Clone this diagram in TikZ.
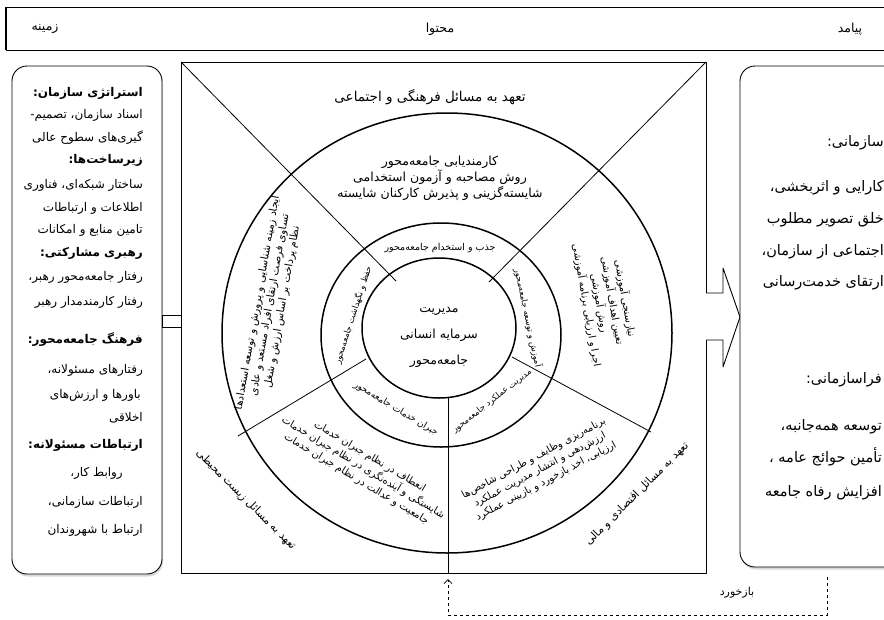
\documentclass[tikz,border=0pt]{standalone}
\usepackage{fontspec}
\newfontfamily\arabicfont[Script=Arabic]{DejaVu Sans}
\TeXXeTstate=1
\usetikzlibrary{arrows.meta,shadows}
\newcommand{\fa}[1]{\beginR #1\endR}

\begin{document}
\begin{tikzpicture}[x=1pt,y=-1pt,line join=round,
    ring/.style={line width=1.5pt},
    spoke/.style={line width=0.8pt},
    fatxt/.style={font=\arabicfont\fontsize{#1}{#1}\selectfont, inner sep=0pt},
    fatxt/.default=8,
    lbl/.style={fatxt=12, anchor=east},
    lhead/.style={lbl, font=\arabicfont\bfseries\fontsize{12}{12}\selectfont},
    rlbl/.style={fatxt=14.5, anchor=east},
    seg/.style 2 args={font=\arabicfont\fontsize{#1}{#2}\selectfont, inner sep=0pt, align=center},
    panel/.style={draw, line width=0.9pt, fill=white, rounded corners=15pt,
        drop shadow={shadow xshift=1pt, shadow yshift=-2.5pt, opacity=0.3}}]
    \useasboundingbox (0,0) rectangle (884,619);

    % Header
    \draw[line width=0.9pt] (6,7) rectangle (900,50);
    \draw[line width=2pt] (6,7) -- (6,50);
    \node[fatxt=12.5] (hctx) at (45,29) {\fa{زمینه}};
    \node[fatxt=12.5] (hcnt) at (440,29) {\fa{محتوا}};
    \node[fatxt=12.5] (hout) at (850,29) {\fa{پیامد}};

    % Context panel
    \draw[panel] (12,66) rectangle (162,574);
    \node[lhead] (l1) at (143,93) {\fa{استراتژی سازمان:}};
    \node[lbl] (l2) at (143,115) {\fa{اسناد سازمان، تصمیم-}};
    \node[lbl] (l3) at (143,138) {\fa{گیری‌های سطوح عالی}};
    \node[lhead] (l4) at (143,160) {\fa{زیرساخت‌ها:}};
    \node[lbl] (l5) at (143,185) {\fa{ساختار شبکه‌ای، فناوری}};
    \node[lbl] (l6) at (143,208) {\fa{اطلاعات و ارتباطات}};
    \node[lbl] (l7) at (143,230) {\fa{تامین منابع و امکانات}};
    \node[lhead] (l8) at (143,253) {\fa{رهبری مشارکتی:}};
    \node[lbl] (l9) at (143,277) {\fa{رفتار جامعه‌محور رهبر،}};
    \node[lbl] (l10) at (143,302) {\fa{رفتار کارمندمدار رهبر}};
    \node[lhead] (l11) at (143,340) {\fa{فرهنگ جامعه‌محور:}};
    \node[lbl] (l12) at (143,370) {\fa{رفتارهای مسئولانه،}};
    \node[lbl] (l13) at (141,395) {\fa{باورها و ارزش‌های}};
    \node[lbl] (l14) at (143,418) {\fa{اخلاقی}};
    \node[lhead] (l15) at (143,445) {\fa{ارتباطات مسئولانه:}};
    \node[lbl] (l16) at (123,473) {\fa{روابط کار،}};
    \node[lbl] (l17) at (143,502) {\fa{ارتباطات سازمانی،}};
    \node[lbl] (l18) at (143,530) {\fa{ارتباط با شهروندان}};
    \draw[line width=0.8pt] (162,315) rectangle (181,327);

    % Content square
    \draw[line width=1pt] (181,62) rectangle (706,573);
    \coordinate (tl) at (181,62); \coordinate (tlin) at (396,281);
    \coordinate (tr) at (706,62); \coordinate (trin) at (489,282);
    \coordinate (llout) at (238,436); \coordinate (llin) at (366,359);
    \coordinate (bot) at (448,573); \coordinate (botin) at (448,398);
    \coordinate (lrout) at (651,432); \coordinate (lrin) at (512,357);
    \draw[spoke] (tl) -- (tlin);
    \draw[spoke] (tr) -- (trin);
    \draw[spoke] (llout) -- (llin);
    \draw[spoke] (bot) -- (botin);
    \draw[spoke] (lrout) -- (lrin);

    \draw[ring] (447,333) ellipse [x radius=225, y radius=220];
    \draw[ring] (441,335) ellipse [x radius=120, y radius=112];
    \draw[ring] (439,328) ellipse [x radius=77, y radius=70];

    % Outer commitments
    \node[fatxt=13.5] (cult) at (430,97) {\fa{تعهد به مسائل فرهنگی و اجتماعی}};
    \node[fatxt=11, rotate=-45] (env) at (246,500) {\fa{تعهد به مسائل زیست محیطی}};
    \node[fatxt=11, rotate=45] (econ) at (637,494) {\fa{تعهد به مسائل اقتصادی و مالی}};

    % Outer ring
    \node[seg={12.5}{16}] (rtop) at (440,178) {\fa{کارمندیابی جامعه‌محور}\\\fa{روش مصاحبه و آزمون استخدامی}\\\fa{شایسته‌گزینی و پذیرش کارکنان شایسته}};
    \node[seg={10.5}{12.5}, rotate=80] (rleft) at (270,305) {\fa{ایجاد زمینه شناسایی و پرورش و توسعه استعدادها}\\\fa{تساوی فرصت ارتقای افراد مستعد و عادی}\\\fa{نظام پرداخت بر اساس ارزش و شغل}};
    \node[seg={10}{13}, rotate=-31] (rbl) at (363,468) {\fa{انعطاف در نظام جبران خدمات}\\\fa{شایستگی و آینده‌نگری در نظام جبران خدمات}\\\fa{جامعیت و عدالت در نظام جبران خدمات}};
    \node[seg={10}{13}, rotate=28] (rbr) at (540,470) {\fa{برنامه‌ریزی وظایف و طراحی شاخص‌ها}\\\fa{ارزش‌دهی و انتشار مدیریت عملکرد}\\\fa{ارزیابی، اخذ بازخورد و بازبینی عملکرد}};
    \node[seg={10}{13}, rotate=-80] (rright) at (606,302) {\fa{نیازسنجی آموزشی}\\\fa{تعیین اهداف آموزشی}\\\fa{روش آموزشی}\\\fa{اجرا و ارزیابی برنامه آموزشی}};

    % Inner ring
    \node[fatxt=9.5] (itop) at (440,248) {\fa{جذب و استخدام جامعه‌محور}};
    \node[fatxt=8.5, rotate=72] (ileft) at (353,315) {\fa{حفظ و نگهداشت جامعه‌محور}};
    \node[fatxt=9, rotate=-31] (ibl) at (396,409) {\fa{جبران خدمات جامعه‌محور}};
    \node[fatxt=8.5, rotate=38] (ibr) at (492,401) {\fa{مدیریت عملکرد جامعه‌محور}};
    \node[fatxt=8.5, rotate=-78] (iright) at (528,318) {\fa{آموزش و توسعه جامعه‌محور}};

    % Core
    \node[seg={12.5}{26}] (core) at (439,337) {\fa{مدیریت}\\\fa{سرمایه انسانی}\\\fa{جامعه‌محور}};

    % Output arrow and panel
    \draw[line width=0.9pt, fill=white] (706,293) -- (723,293) -- (723,268) -- (740,317)
        -- (723,367) -- (723,340) -- (706,340);
    \draw[panel] (740,66) rectangle (910,567);
    \node[rlbl] (o1) at (884,143) {\fa{سازمانی:}};
    \node[rlbl] (o2) at (884,188) {\fa{کارایی و اثربخشی،}};
    \node[rlbl] (o3) at (884,220) {\fa{خلق تصویر مطلوب}};
    \node[rlbl] (o4) at (884,252) {\fa{اجتماعی از سازمان،}};
    \node[rlbl] (o5) at (884,283) {\fa{ارتقای خدمت‌رسانی}};
    \node[rlbl] (o6) at (882,380) {\fa{فراسازمانی:}};
    \node[rlbl] (o7) at (882,427) {\fa{توسعه همه‌جانبه،}};
    \node[rlbl] (o8) at (882,457) {\fa{تأمین حوائج عامه ،}};
    \node[rlbl] (o9) at (882,493) {\fa{افزایش رفاه جامعه}};

    % Feedback
    \coordinate (fbA) at (827,577); \coordinate (fbB) at (827,615);
    \coordinate (fbC) at (448,615); \coordinate (fbD) at (448,579);
    \draw[dashed, line width=0.8pt, -{Straight Barb[length=4pt,width=8pt]}] (fbA) -- (fbB) -- (fbC) -- (fbD);
    \node[fatxt=11] (fb) at (737,593) {\fa{بازخورد}};
\end{tikzpicture}
\end{document}
